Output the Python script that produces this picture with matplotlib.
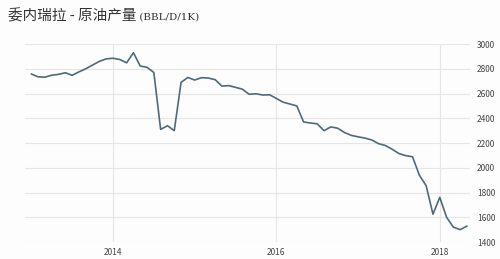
import matplotlib
matplotlib.use("Agg")
import matplotlib.pyplot as plt
import numpy as np
import pandas as pd

plt.rcParams["font.family"] = ["Noto Sans CJK SC", "DejaVu Sans"]

# Production mensuelle, janv. 2013 -> mai 2018 (milliers de barils/jour)
months = pd.date_range("2013-01-01", periods=65, freq="MS")
production = [
    2758, 2735, 2732, 2748, 2755, 2768, 2747, 2775, 2800, 2830, 2860, 2880,
    2885, 2875, 2848, 2930, 2822, 2812, 2770, 2310, 2340, 2300, 2690, 2730,
    2709, 2728, 2725, 2712, 2660, 2664, 2650, 2635, 2594, 2598, 2588, 2590,
    2560, 2530, 2515, 2500, 2370, 2362, 2355, 2300, 2330, 2320, 2285, 2262,
    2250, 2240, 2225, 2195, 2180, 2150, 2115, 2098, 2089, 1940, 1855, 1625,
    1761, 1600, 1520, 1500, 1529,
]
y_ticks = [1400, 1600, 1800, 2000, 2200, 2400, 2600, 2800, 3000]
x_ticks = [2014, 2016, 2018]

t = months.year + (months.month - 1) / 12

fig = plt.figure(figsize=(5.0, 2.59), dpi=100)
fig.patch.set_facecolor("#fdfdfd")
ax = fig.add_axes([0.05, 0.0656, 0.89, 0.7644])
ax.set_facecolor("#fdfdfd")

ax.plot(t, production, color="#4d6b78", lw=1.2,
        solid_joinstyle="round", solid_capstyle="round")

ax.set_xlim(2012.923, 2018.37)
ax.set_ylim(1400, 3000)
ax.set_yticks(y_ticks)
ax.set_xticks(x_ticks)
ax.set_xticklabels([str(x) for x in x_ticks])
ax.yaxis.tick_right()
ax.tick_params(length=0, labelsize=6, colors="#444444")
ax.tick_params(axis="y", pad=5)
ax.tick_params(axis="x", pad=4)
ax.grid(True, color="#e6e6e6", lw=0.8)
ax.set_axisbelow(True)
for s in ax.spines.values():
    s.set_visible(False)

title = fig.text(0.016, 0.935, "委内瑞拉 - 原油产量", fontsize=10.5,
                 color="#333333", va="center", ha="left")
ax.annotate(" (BBL/D/1K)", xy=(1, 0.5), xycoords=title, va="center",
            ha="left", fontsize=7.5, color="#333333",
            family=["DejaVu Serif"], annotation_clip=False)

fig.savefig("out.png", dpi=100, facecolor=fig.get_facecolor())
